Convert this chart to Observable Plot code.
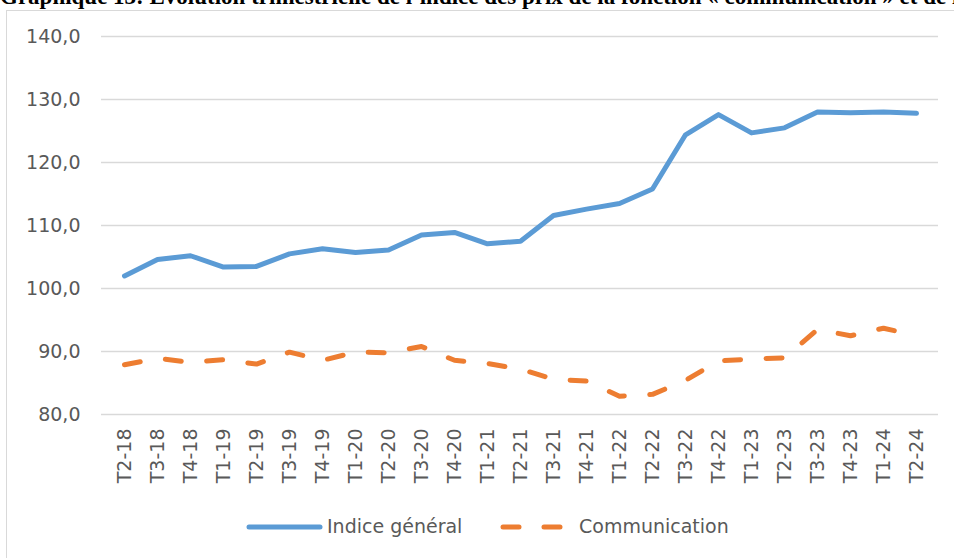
<!DOCTYPE html>
<html>
<head>
<meta charset="utf-8">
<script src="https://cdn.jsdelivr.net/npm/d3@7"></script>
<script src="https://cdn.jsdelivr.net/npm/@observablehq/plot@0.6"></script>
<style>
  body { margin: 0; background: #fff; }
  #wrap { position: relative; width: 954px; height: 558px; overflow: hidden; font-family: "DejaVu Sans", sans-serif; }
  #title { position: absolute; left: 0; top: -16px; font: bold 23px "Liberation Serif", serif; white-space: nowrap; color: #000; }
  #frame { position: absolute; left: 6px; top: 10px; width: 1000px; height: 600px; border: 1.5px solid #d9d9d9; box-sizing: border-box; background: #fff; }
  #chart { position: absolute; left: 0; top: 0; }
  .leg { position: absolute; top: 514px; font-size: 19px; color: #595959; line-height: 24px; }
</style>
</head>
<body>
<div id="wrap">
  <div id="title">Graphique 13: Évolution trimestrielle de l’indice des prix de la fonction « communication » et de l’indice général</div>
  <div id="frame"></div>
  <div id="chart"></div>
  <svg class="leg" style="left:245px;top:519px" width="80" height="16"><line x1="4" x2="75" y1="8" y2="8" stroke="#5b9bd5" stroke-width="5" stroke-linecap="round"/></svg>
  <div class="leg" style="left:327px">Indice général</div>
  <svg class="leg" style="left:498px;top:519px" width="76" height="16"><line x1="5" x2="70" y1="8" y2="8" stroke="#ed7d31" stroke-width="5" stroke-linecap="round" stroke-dasharray="16,25"/></svg>
  <div class="leg" style="left:579px">Communication</div>
</div>
<script>
const quarters = ["T2-18","T3-18","T4-18","T1-19","T2-19","T3-19","T4-19","T1-20","T2-20","T3-20","T4-20","T1-21","T2-21","T3-21","T4-21","T1-22","T2-22","T3-22","T4-22","T1-23","T2-23","T3-23","T4-23","T1-24","T2-24"];
const general = [102.0,104.6,105.2,103.4,103.5,105.5,106.3,105.7,106.1,108.5,108.9,107.1,107.5,111.6,112.6,113.5,115.8,124.4,127.6,124.7,125.5,128.0,127.9,128.0,127.8];
const communication = [87.9,88.9,88.3,88.7,88.0,89.9,88.6,89.9,89.8,90.8,88.6,88.1,87.2,85.6,85.3,82.9,83.2,85.4,88.5,88.8,89.0,93.5,92.5,93.7,92.5];
const yTicks = [80,90,100,110,120,130,140];

const fmt = d => d.toFixed(1).replace(".", ",");

const chart = Plot.plot({
  width: 954,
  height: 494,
  marginLeft: 101,
  marginRight: 16,
  marginTop: 36,
  marginBottom: 80,
  style: { fontFamily: "DejaVu Sans", fontSize: "19px", color: "#595959", background: "transparent" },
  x: { type: "point", domain: quarters, padding: 0.5, label: null, tickSize: 0, tickRotate: -90, tickPadding: 14 },
  y: { domain: [80, 140], ticks: yTicks, tickFormat: fmt, tickSize: 0, tickPadding: 21, label: null },
  marks: [
    Plot.ruleY(yTicks, { stroke: "#d9d9d9", strokeWidth: 1.5 }),
    Plot.line(quarters, { x: d => d, y: (d, i) => general[i], stroke: "#5b9bd5", strokeWidth: 5, strokeLinecap: "round", strokeLinejoin: "round" }),
    Plot.line(quarters, { x: d => d, y: (d, i) => communication[i], stroke: "#ed7d31", strokeWidth: 5, strokeLinecap: "round", strokeLinejoin: "round", strokeDasharray: "16,25.5" })
  ]
});
document.getElementById("chart").appendChild(chart);
</script>
</body>
</html>
